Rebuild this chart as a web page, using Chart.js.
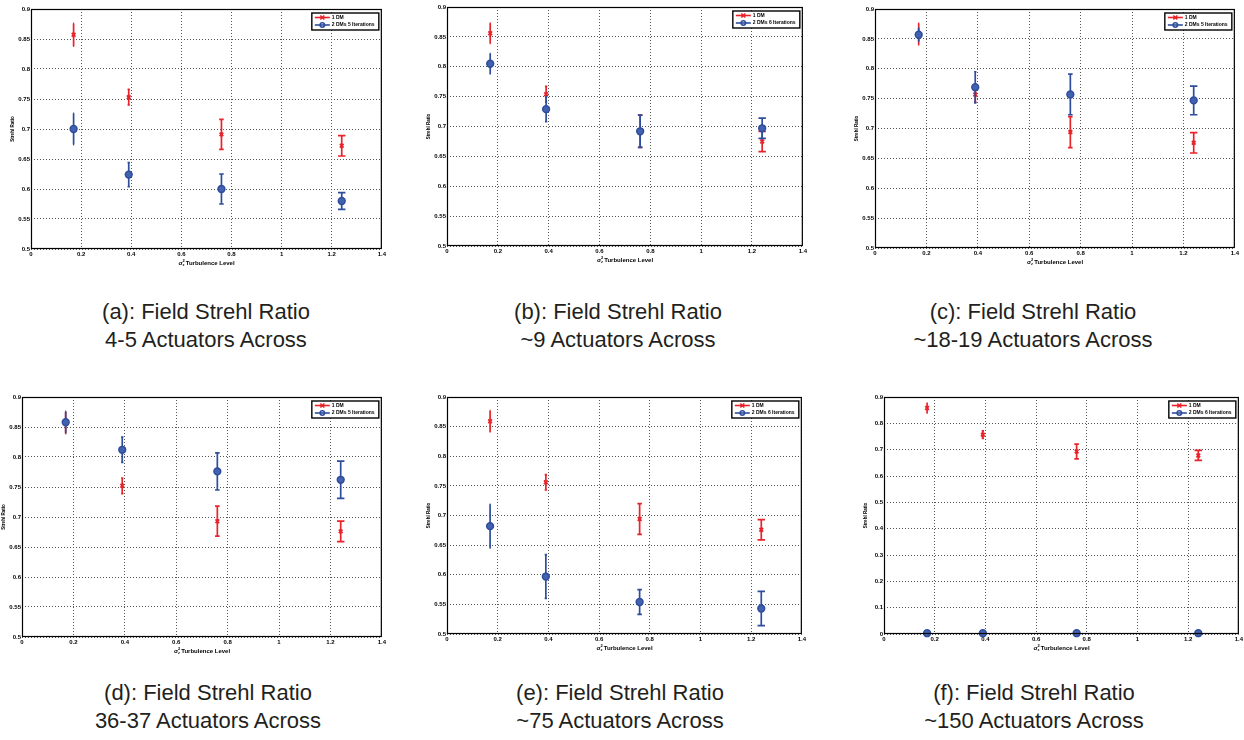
<!DOCTYPE html>
<html>
<head>
<meta charset="utf-8">
<title>Field Strehl Ratio</title>
<script src="https://cdn.jsdelivr.net/npm/chart.js@4/dist/chart.umd.min.js"></script>
<style>
body { margin: 0; background: #fff; width: 1244px; height: 740px; position: relative; overflow: hidden; font-family: "Liberation Sans", Arial, sans-serif; }
canvas { position: absolute; }
.titulo-x { position: absolute; font: bold 6px "Liberation Sans", Arial, sans-serif; color: #000; white-space: nowrap; transform: translateX(-50%); }
.titulo-x .ind { display: inline-block; vertical-align: middle; font-size: 4px; line-height: 4px; text-align: left; margin-right: 1px; }
.legenda { position: absolute; width: 360px; margin-left: -180px; text-align: center; font-size: 22px; line-height: 28px; color: #231f20; }
</style>
</head>
<body>

<script>
// Dados (nível de turbulência x razão de Strehl)
const turbulencia = [0.17, 0.39, 0.76, 1.24];
const ticksX = [0, 0.2, 0.4, 0.6, 0.8, 1, 1.2, 1.4];
const ticksY = [0.5, 0.55, 0.6, 0.65, 0.7, 0.75, 0.8, 0.85, 0.9];
const ticksYf = [0, 0.1, 0.2, 0.3, 0.4, 0.5, 0.6, 0.7, 0.8, 0.9];

// (a) 4-5 atuadores
const dm1_a = [0.857, 0.753, 0.691, 0.672];
const dm1_a_err = [0.019, 0.013, 0.025, 0.017];
const dm2_a = [0.700, 0.624, 0.600, 0.580];
const dm2_a_err = [0.026, 0.020, 0.025, 0.014];

// (b) ~9 atuadores
const dm1_b = [0.856, 0.754, 0.692, 0.675];
const dm1_b_err = [0.017, 0.013, 0.027, 0.017];
const dm2_b = [0.805, 0.729, 0.692, 0.697];
const dm2_b_err = [0.017, 0.021, 0.027, 0.017];

// (c) ~18-19 atuadores
const dm1_c = [0.858, 0.757, 0.694, 0.676];
const dm1_c_err = [0.018, 0.013, 0.026, 0.017];
const dm2_c = [0.857, 0.769, 0.757, 0.747];
const dm2_c_err = [0.011, 0.026, 0.034, 0.024];

// (d) 36-37 atuadores
const dm1_d = [0.857, 0.752, 0.693, 0.676];
const dm1_d_err = [0.018, 0.013, 0.025, 0.017];
const dm2_d = [0.858, 0.812, 0.776, 0.762];
const dm2_d_err = [0.018, 0.021, 0.031, 0.031];

// (e) ~75 atuadores
const dm1_e = [0.859, 0.756, 0.694, 0.676];
const dm1_e_err = [0.018, 0.013, 0.026, 0.017];
const dm2_e = [0.682, 0.597, 0.554, 0.543];
const dm2_e_err = [0.037, 0.037, 0.021, 0.029];

// (f) ~150 atuadores
const dm1_f = [0.858, 0.757, 0.693, 0.678];
const dm1_f_err = [0.019, 0.014, 0.028, 0.019];
const dm2_f = [0.003, 0.003, 0.003, 0.003];
const dm2_f_err = [0, 0, 0, 0];

const rotulosSerie = ['1 DM', '2 DMs 5 Iterations', '2 DMs 6 Iterations'];
const textosLegenda = [
    ['(a): Field Strehl Ratio', '4-5 Actuators Across'],
    ['(b): Field Strehl Ratio', '~9 Actuators Across'],
    ['(c): Field Strehl Ratio', '~18-19 Actuators Across'],
    ['(d): Field Strehl Ratio', '36-37 Actuators Across'],
    ['(e): Field Strehl Ratio', '~75 Actuators Across'],
    ['(f): Field Strehl Ratio', '~150 Actuators Across']
];

// área do gráfico de cada painel na página: esquerda, direita, topo, base
const paineis = [
    { area: [31, 382, 9, 249], r: dm1_a, re: dm1_a_err, b: dm2_a, be: dm2_a_err, iter: 1, ty: ticksY, leg: [206, 298] },
    { area: [447, 803, 7, 246], r: dm1_b, re: dm1_b_err, b: dm2_b, be: dm2_b_err, iter: 2, ty: ticksY, leg: [618, 298] },
    { area: [875, 1235, 9, 248], r: dm1_c, re: dm1_c_err, b: dm2_c, be: dm2_c_err, iter: 1, ty: ticksY, leg: [1033, 298] },
    { area: [22, 382, 397, 637], r: dm1_d, re: dm1_d_err, b: dm2_d, be: dm2_d_err, iter: 1, ty: ticksY, leg: [208, 679] },
    { area: [447, 802, 397, 634], r: dm1_e, re: dm1_e_err, b: dm2_e, be: dm2_e_err, iter: 2, ty: ticksY, leg: [620, 679] },
    { area: [884, 1239, 397, 634], r: dm1_f, re: dm1_f_err, b: dm2_f, be: dm2_f_err, iter: 2, ty: ticksYf, leg: [1034, 679] }
];

const VERMELHO = '#e8232a';
const AZUL = '#2e4d9c';
const EIXO_Y = 22, TOPO = 6, DIREITA = 6, EIXO_X = 10;

// barras de erro desenhadas antes dos marcadores de cada série
const barrasErro = {
    id: 'barrasErro',
    beforeDatasetDraw(chart, args) {
        const ds = chart.data.datasets[args.index];
        const { ctx, scales: { x, y } } = chart;
        ctx.save();
        ctx.strokeStyle = ds.borderColor;
        ctx.lineWidth = 1.7;
        ds.data.forEach((p, i) => {
            const e = ds.erros[i];
            if (!e) return;
            const px = x.getPixelForValue(p.x);
            const yt = y.getPixelForValue(p.y + e);
            const yb = y.getPixelForValue(p.y - e);
            const c = 3 * p.x;
            ctx.beginPath();
            ctx.moveTo(px, yt); ctx.lineTo(px, yb);
            ctx.moveTo(px - c, yt); ctx.lineTo(px + c, yt);
            ctx.moveTo(px - c, yb); ctx.lineTo(px + c, yb);
            ctx.stroke();
        });
        ctx.restore();
    }
};

// moldura da área e legenda no canto superior direito
const molduraLegenda = {
    id: 'molduraLegenda',
    afterDraw(chart) {
        const { ctx, chartArea: a } = chart;
        ctx.save();
        ctx.strokeStyle = '#000';
        ctx.lineWidth = 1.2;
        ctx.strokeRect(a.left + 0.5, a.top + 0.5, a.width - 1, a.height - 1);

        const w = 67, h = 17, x0 = a.right - 70, y0 = a.top + 4;
        ctx.fillStyle = '#fff';
        ctx.fillRect(x0, y0, w, h);
        ctx.lineWidth = 1.4;
        ctx.strokeRect(x0, y0, w, h);
        ctx.font = 'bold 5px "Liberation Sans", Arial, sans-serif';
        ctx.textBaseline = 'middle';
        chart.data.datasets.forEach((ds, i) => {
            const yy = y0 + 4.5 + i * 7.5;
            ctx.strokeStyle = ds.borderColor;
            ctx.lineWidth = 1.6;
            ctx.beginPath();
            ctx.moveTo(x0 + 3, yy); ctx.lineTo(x0 + 18, yy);
            ctx.stroke();
            const mx = x0 + 10.5;
            ctx.beginPath();
            if (ds.pointStyle === 'circle') {
                ctx.arc(mx, yy, 2.2, 0, Math.PI * 2);
            } else {
                ctx.moveTo(mx - 2, yy - 2); ctx.lineTo(mx + 2, yy + 2);
                ctx.moveTo(mx - 2, yy + 2); ctx.lineTo(mx + 2, yy - 2);
            }
            ctx.stroke();
            ctx.fillStyle = '#000';
            ctx.fillText(ds.label, x0 + 20, yy);
        });
        ctx.restore();
    }
};

function pontos(valores) {
    return turbulencia.map((t, i) => ({ x: t, y: valores[i] }));
}

function rotulo(v) {
    return String(Math.round(v * 100) / 100);
}

paineis.forEach((p, n) => {
    const [esq, dir, topo, base] = p.area;
    const canvas = document.createElement('canvas');
    canvas.width = (dir - esq) + EIXO_Y + DIREITA;
    canvas.height = (base - topo) + TOPO + EIXO_X;
    canvas.style.left = (esq - EIXO_Y) + 'px';
    canvas.style.top = (topo - TOPO) + 'px';
    document.body.appendChild(canvas);

    const fonteTick = { family: '"Liberation Sans", Arial, sans-serif', size: 6, weight: 'bold' };

    new Chart(canvas.getContext('2d'), {
        type: 'scatter',
        data: {
            datasets: [
                {
                    label: rotulosSerie[0],
                    data: pontos(p.r),
                    erros: p.re,
                    borderColor: VERMELHO,
                    backgroundColor: VERMELHO,
                    pointStyle: 'crossRot',
                    pointRadius: 2.6,
                    pointBorderWidth: 1.8,
                    showLine: false,
                    clip: false,
                    order: 2
                },
                {
                    label: rotulosSerie[p.iter],
                    data: pontos(p.b),
                    erros: p.be,
                    borderColor: AZUL,
                    backgroundColor: '#4262b0',
                    pointStyle: 'circle',
                    pointRadius: 3.4,
                    pointBorderWidth: 1.5,
                    showLine: false,
                    clip: false,
                    order: 1
                }
            ]
        },
        options: {
            responsive: false,
            animation: false,
            events: [],
            layout: { padding: { left: 0, top: TOPO, right: DIREITA, bottom: 0 } },
            plugins: {
                legend: { display: false },
                tooltip: { enabled: false }
            },
            scales: {
                x: {
                    type: 'linear',
                    min: 0,
                    max: 1.4,
                    afterBuildTicks: s => { s.ticks = ticksX.map(v => ({ value: v })); },
                    afterFit: s => { s.height = EIXO_X; },
                    ticks: { color: '#000', font: fonteTick, padding: 2, maxRotation: 0, autoSkip: false, callback: rotulo },
                    grid: { color: '#555', lineWidth: 1, drawTicks: false },
                    border: { display: false, dash: [1, 2] }
                },
                y: {
                    type: 'linear',
                    min: p.ty[0],
                    max: p.ty[p.ty.length - 1],
                    afterBuildTicks: s => { s.ticks = p.ty.map(v => ({ value: v })); },
                    afterFit: s => { s.width = EIXO_Y; },
                    ticks: { color: '#000', font: fonteTick, padding: 1, autoSkip: false, callback: rotulo },
                    grid: { color: '#555', lineWidth: 1, drawTicks: false },
                    border: { display: false, dash: [1, 2] },
                    title: {
                        display: true,
                        text: 'Strehl Ratio',
                        color: '#000',
                        font: { family: '"Liberation Sans", Arial, sans-serif', size: 4.5, weight: 'bold' },
                        padding: 1
                    }
                }
            }
        },
        plugins: [barrasErro, molduraLegenda]
    });

    // título do eixo x com sigma, expoente 2 e índice z
    const tx = document.createElement('div');
    tx.className = 'titulo-x';
    tx.style.left = ((esq + dir) / 2) + 'px';
    tx.style.top = (base + 10) + 'px';
    tx.innerHTML = 'σ<span class="ind">2<br>z</span>Turbulence Level';
    document.body.appendChild(tx);

    // legenda da figura
    const lg = document.createElement('div');
    lg.className = 'legenda';
    lg.style.left = p.leg[0] + 'px';
    lg.style.top = p.leg[1] + 'px';
    lg.innerHTML = textosLegenda[n][0] + '<br>' + textosLegenda[n][1];
    document.body.appendChild(lg);
});
</script>
</body>
</html>
